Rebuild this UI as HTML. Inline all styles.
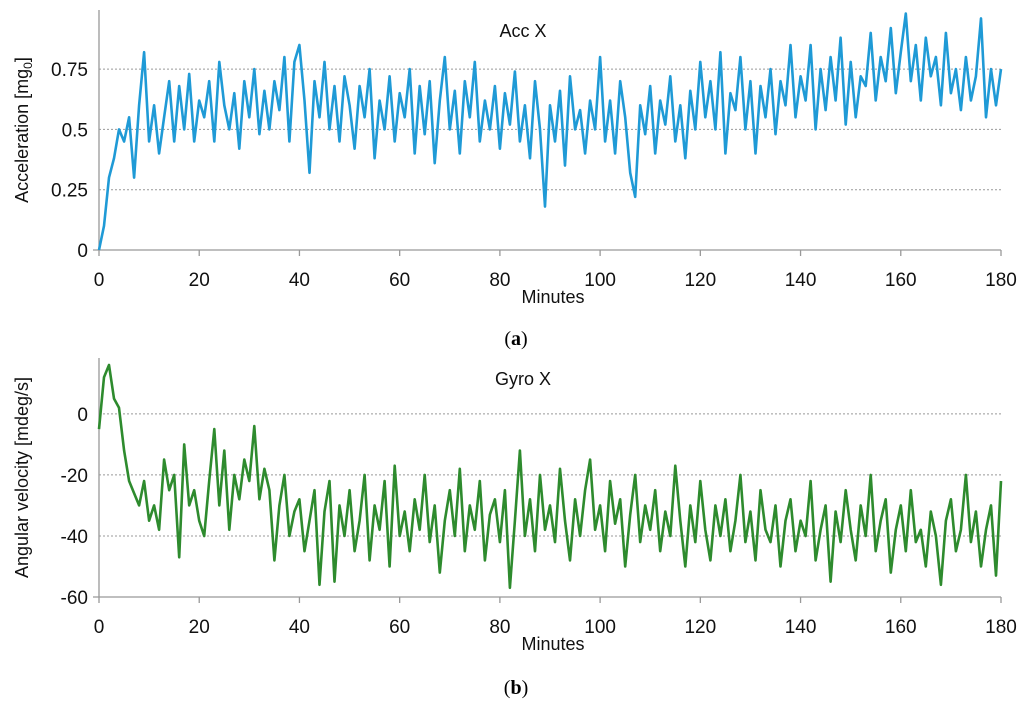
<!DOCTYPE html>
<html><head><meta charset="utf-8"><style>
html,body{margin:0;padding:0;background:#fff;}
svg{display:block;font-family:"Liberation Sans",sans-serif;}
</style></head><body>
<svg id="s" width="1024" height="706" viewBox="0 0 1024 706">
<g id="ca"></g>
<g id="cb"></g>
<text x="516" y="345" text-anchor="middle" font-family="Liberation Serif,serif" font-size="20">(<tspan font-weight="bold">a</tspan>)</text>
<text x="516" y="694" text-anchor="middle" font-family="Liberation Serif,serif" font-size="20">(<tspan font-weight="bold">b</tspan>)</text>
</svg>
<script>
const xTicks=[0,20,40,60,80,100,120,140,160,180];
const accTicks=[0,0.25,0.5,0.75];
const accTickLabels=["0","0.25","0.5","0.75"];
const gyroTicks=[-60,-40,-20,0];
const gyroTickLabels=["-60","-40","-20","0"];
const accValues=[0,0.1,0.3,0.38,0.5,0.45,0.55,0.3,0.6,0.82,
0.45,0.6,0.4,0.55,0.7,0.45,0.68,0.5,0.73,0.45,
0.62,0.55,0.7,0.45,0.78,0.6,0.5,0.65,0.42,0.7,
0.55,0.75,0.48,0.66,0.5,0.7,0.58,0.8,0.45,0.78,
0.85,0.62,0.32,0.7,0.55,0.78,0.5,0.68,0.45,0.72,
0.6,0.42,0.68,0.55,0.75,0.38,0.62,0.5,0.72,0.45,
0.65,0.55,0.75,0.4,0.68,0.48,0.7,0.36,0.62,0.8,
0.5,0.66,0.4,0.7,0.55,0.78,0.45,0.62,0.5,0.68,
0.42,0.65,0.52,0.74,0.45,0.6,0.38,0.7,0.5,0.18,
0.6,0.45,0.66,0.35,0.72,0.5,0.58,0.4,0.62,0.5,
0.8,0.45,0.62,0.4,0.7,0.55,0.32,0.22,0.6,0.48,
0.68,0.4,0.62,0.52,0.72,0.45,0.6,0.38,0.66,0.5,
0.78,0.55,0.7,0.5,0.82,0.4,0.65,0.58,0.8,0.5,
0.7,0.4,0.68,0.55,0.75,0.48,0.7,0.6,0.85,0.55,
0.72,0.62,0.85,0.5,0.75,0.58,0.8,0.62,0.88,0.52,
0.78,0.55,0.72,0.68,0.9,0.62,0.8,0.7,0.92,0.65,
0.82,0.98,0.7,0.85,0.62,0.88,0.72,0.8,0.6,0.9,
0.65,0.75,0.58,0.8,0.62,0.72,0.96,0.55,0.75,0.6,0.75];
const gyroValues=[-5,12,16,5,2,-12,-22,-26,-30,-22,
-35,-30,-38,-15,-25,-20,-47,-10,-30,-25,
-35,-40,-22,-5,-30,-12,-38,-20,-28,-15,
-22,-4,-28,-18,-25,-48,-30,-20,-40,-32,
-28,-45,-35,-25,-56,-32,-22,-55,-30,-40,
-25,-45,-35,-20,-48,-30,-38,-22,-50,-17,
-40,-32,-45,-28,-38,-20,-42,-30,-52,-35,
-25,-40,-18,-45,-30,-38,-22,-48,-33,-28,
-42,-25,-57,-35,-12,-40,-28,-45,-20,-38,
-30,-42,-18,-35,-48,-28,-40,-25,-15,-38,
-30,-45,-22,-36,-28,-50,-33,-20,-42,-30,
-38,-25,-45,-32,-40,-17,-35,-50,-30,-42,
-22,-38,-48,-30,-40,-28,-45,-35,-20,-42,
-32,-48,-25,-38,-42,-30,-50,-35,-28,-45,
-35,-40,-22,-48,-38,-30,-55,-32,-42,-25,
-38,-48,-30,-40,-20,-45,-35,-28,-52,-38,
-30,-45,-25,-42,-38,-50,-32,-40,-56,-35,
-28,-45,-38,-20,-42,-32,-50,-38,-30,-53,-22];
const NS="http://www.w3.org/2000/svg";
function mk(p,t,a){const e=document.createElementNS(NS,t);for(const k in a)e.setAttribute(k,a[k]);p.appendChild(e);return e;}
function chart(g,cfg){
  const x0=99,x1=1001;
  const xs=v=>x0+(v-0)/180*(x1-x0);
  const ys=v=>cfg.yb-(v-cfg.ymin)/(cfg.ymax-cfg.ymin)*(cfg.yb-cfg.yt);
  cfg.ticks.forEach((t,i)=>{
    if(i>0){const gl=mk(g,'line',{x1:x0,x2:x1,y1:ys(t),y2:ys(t),stroke:'#999','stroke-width':1,'stroke-dasharray':'2,2'});
    
    }
    const lb=mk(g,'text',{x:88,y:ys(t)+7,'text-anchor':'end','font-size':19,fill:'#111'});lb.textContent=cfg.labels[i];
    
    
  });
  const ya=mk(g,'line',{x1:x0,x2:x0,y1:cfg.yt,y2:cfg.yb,stroke:'#999','stroke-width':1.3});
  
  
  const xa=mk(g,'line',{x1:x0-6,x2:x1,y1:cfg.yb,y2:cfg.yb,stroke:'#999','stroke-width':1.3});
  
  
  xTicks.forEach(t=>{
    const tk=mk(g,'line',{x1:xs(t),x2:xs(t),y1:cfg.yb,y2:cfg.yb+6,stroke:'#999','stroke-width':1.3});
    
    
    const lb=mk(g,'text',{x:xs(t),y:cfg.yb+36,'text-anchor':'middle','font-size':19,fill:'#111'});lb.textContent=t;
    
    
  });
  const d=cfg.vals.map((v,i)=>(i?'L':'M')+xs(i*180/(cfg.vals.length-1)).toFixed(1)+','+ys(v).toFixed(1)).join('');
  const ln=mk(g,'path',{d:d,fill:'none',stroke:cfg.color,'stroke-width':2.6,'stroke-linejoin':'round'});
  
  
  const ti=mk(g,'text',{x:523,y:cfg.yt+27,'text-anchor':'middle','font-size':18,fill:'#111'});ti.textContent=cfg.title;
  
  
  const xt=mk(g,'text',{x:553,y:cfg.yb+53,'text-anchor':'middle','font-size':18,fill:'#111'});xt.textContent='Minutes';
  
  
  const cy=(cfg.yt+cfg.yb)/2;
  const yt=mk(g,'text',{x:0,y:0,'text-anchor':'middle','font-size':18,fill:'#111',transform:`translate(28,${cy}) rotate(-90)`});
  yt.innerHTML=cfg.ytitle;
  
  
}
chart(document.getElementById('ca'),{yt:10,yb:250,ymin:0,ymax:0.995,ticks:accTicks,labels:accTickLabels,vals:accValues,color:'#1f9ad6',name:'acc-x',title:'Acc X',ytitle:'Acceleration [mg<tspan font-size="12" dy="4">0</tspan><tspan dy="-4">]</tspan>'});
chart(document.getElementById('cb'),{yt:358,yb:597,ymin:-60,ymax:18.3,ticks:gyroTicks,labels:gyroTickLabels,vals:gyroValues,color:'#2e8b2e',name:'gyro-x',title:'Gyro X',ytitle:'Angular velocity [mdeg/s]'});
</script>
</body></html>
